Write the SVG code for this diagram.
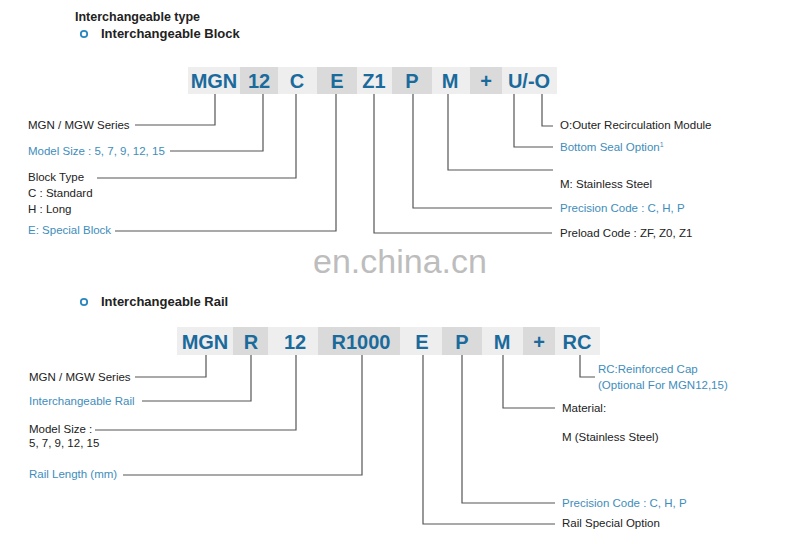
<svg xmlns="http://www.w3.org/2000/svg" width="800" height="544" viewBox="0 0 800 544">
<style>
.bg{fill:#ffffff}
.bl{fill:#eeeeee}
.bd{fill:#dadada}
.code{font-family:"Liberation Sans",Arial,sans-serif;font-weight:bold;font-size:20px;fill:#1b6a9c;text-anchor:middle}
.hdr{font-family:"Liberation Sans",Arial,sans-serif;font-weight:bold;font-size:12.5px;fill:#222}
.lab{font-family:"Liberation Sans",Arial,sans-serif;font-size:11.5px;fill:#222}
.blue{fill:#3e8dbb}
.con{fill:none;stroke:#555;stroke-width:1.2}
.dot{fill:none;stroke:#2a86c0;stroke-width:1.8}
.wm{font-family:"Liberation Sans",Arial,sans-serif;font-size:34px;fill:#bdbdbd;text-anchor:middle}
</style>
<rect class="bg" width="800" height="544"/>

<g id="header">
<text class="hdr" x="75" y="21">Interchangeable type</text>
<circle class="dot" cx="84" cy="34" r="3.2"/>
<text class="hdr" x="101" y="38" style="font-size:13px">Interchangeable Block</text>
<circle class="dot" cx="84" cy="302" r="3.2"/>
<text class="hdr" x="101" y="306" style="font-size:13px">Interchangeable Rail</text>
</g>

<text class="wm" x="400" y="273">en.china.cn</text>

<g id="block-code">
<rect class="bl" x="188" y="67" width="52" height="27"/>
<rect class="bd" x="240" y="67" width="38" height="27"/>
<rect class="bl" x="278" y="67" width="39" height="27"/>
<rect class="bd" x="317" y="67" width="40" height="27"/>
<rect class="bl" x="357" y="67" width="35" height="27"/>
<rect class="bd" x="392" y="67" width="40" height="27"/>
<rect class="bl" x="432" y="67" width="38" height="27"/>
<rect class="bd" x="470" y="67" width="32" height="27"/>
<rect class="bl" x="502" y="67" width="55" height="27"/>
<text class="code" x="214" y="88">MGN</text>
<text class="code" x="259" y="88">12</text>
<text class="code" x="297" y="88">C</text>
<text class="code" x="337" y="88">E</text>
<text class="code" x="374" y="88">Z1</text>
<text class="code" x="412" y="88">P</text>
<text class="code" x="450" y="88">M</text>
<text class="code" x="486" y="88">+</text>
<text class="code" x="529" y="88">U/-O</text>
</g>

<g id="rail-code">
<rect class="bl" x="177" y="327" width="56" height="28"/>
<rect class="bd" x="233" y="327" width="35" height="28"/>
<rect class="bl" x="268" y="327" width="50" height="28"/>
<rect class="bd" x="318" y="327" width="82" height="28"/>
<rect class="bl" x="400" y="327" width="42" height="28"/>
<rect class="bd" x="442" y="327" width="40" height="28"/>
<rect class="bl" x="482" y="327" width="41" height="28"/>
<rect class="bd" x="523" y="327" width="32" height="28"/>
<rect class="bl" x="555" y="327" width="45" height="28"/>
<text class="code" x="205" y="349">MGN</text>
<text class="code" x="251" y="349">R</text>
<text class="code" x="295" y="349">12</text>
<text class="code" x="361" y="349">R1000</text>
<text class="code" x="422" y="349">E</text>
<text class="code" x="462" y="349">P</text>
<text class="code" x="502" y="349">M</text>
<text class="code" x="539" y="349">+</text>
<text class="code" x="577" y="349">RC</text>
</g>

<g id="connectors">
<polyline class="con" points="215,94 215,125 135,125"/>
<polyline class="con" points="263,94 263,151 170,151"/>
<polyline class="con" points="296,94 296,178 97,178"/>
<polyline class="con" points="336,94 336,231 115,231"/>
<polyline class="con" points="374,94 374,233 552,233"/>
<polyline class="con" points="413,94 413,208 552,208"/>
<polyline class="con" points="448,94 448,170 553,170"/>
<polyline class="con" points="514,94 514,147 553,147"/>
<polyline class="con" points="542,94 542,126 553,126"/>

<polyline class="con" points="206,355 206,377 135,377"/>
<polyline class="con" points="251,355 251,401 142,401"/>
<polyline class="con" points="296,355 296,430 95,430"/>
<polyline class="con" points="362,355 362,475 123,475"/>
<polyline class="con" points="423,355 423,524 555,524"/>
<polyline class="con" points="462,355 462,503 555,503"/>
<polyline class="con" points="503,355 503,408 555,408"/>
<polyline class="con" points="580,355 580,377 595,377"/>
</g>

<g id="block-labels">
<text class="lab" x="28" y="129">MGN / MGW Series</text>
<text class="lab blue" x="28" y="155">Model Size : 5, 7, 9, 12, 15</text>
<text class="lab" x="28" y="181">Block Type</text>
<text class="lab" x="28" y="197">C : Standard</text>
<text class="lab" x="28" y="213">H : Long</text>
<text class="lab blue" x="28" y="234">E: Special Block</text>
<text class="lab" x="560" y="129">O:Outer Recirculation Module</text>
<text class="lab blue" x="560" y="151">Bottom Seal Option<tspan dy="-4" style="font-size:7px">1</tspan></text>
<text class="lab" x="560" y="188">M: Stainless Steel</text>
<text class="lab blue" x="560" y="212">Precision Code : C, H, P</text>
<text class="lab" x="560" y="237">Preload Code : ZF, Z0, Z1</text>
</g>

<g id="rail-labels">
<text class="lab" x="29" y="381">MGN / MGW Series</text>
<text class="lab blue" x="29" y="405">Interchangeable Rail</text>
<text class="lab" x="29" y="433">Model Size :</text>
<text class="lab" x="29" y="447">5, 7, 9, 12, 15</text>
<text class="lab blue" x="29" y="478">Rail Length (mm)</text>
<text class="lab blue" x="598" y="373">RC:Reinforced Cap</text>
<text class="lab blue" x="598" y="389">(Optional For MGN12,15)</text>
<text class="lab" x="562" y="412">Material:</text>
<text class="lab" x="562" y="441">M (Stainless Steel)</text>
<text class="lab blue" x="562" y="507">Precision Code : C, H, P</text>
<text class="lab" x="562" y="527">Rail Special Option</text>
</g>
</svg>
